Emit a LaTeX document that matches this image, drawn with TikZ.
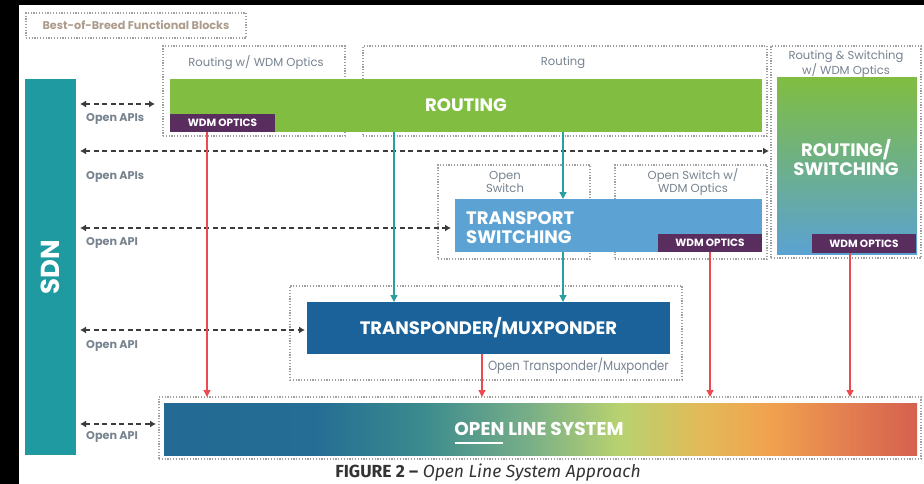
\documentclass[tikz,border=0pt]{standalone}
\usepackage{fontspec}
\setmainfont{Poppins}
\newfontfamily\capfont{Fira Sans}
\usetikzlibrary{arrows.meta}
\definecolor{sdnteal}{HTML}{1F9AA0}
\definecolor{rgreen}{HTML}{80BD41}
\definecolor{wdmpurple}{HTML}{5A2D5F}
\definecolor{tblue}{HTML}{5CA3D3}
\definecolor{tpblue}{HTML}{1A6299}
\definecolor{rsblue}{HTML}{5AA2D2}
\definecolor{lblgray}{HTML}{77838F}
\definecolor{tantext}{HTML}{AD9C8C}
\definecolor{dotgray}{HTML}{A0A0A0}
\definecolor{arrgray}{HTML}{3C3C3C}
\definecolor{redarr}{HTML}{EA4A50}
\definecolor{tealarr}{HTML}{2A9EA0}
\definecolor{capgray}{HTML}{333333}
\definecolor{o1}{HTML}{236A94}
\definecolor{o2}{HTML}{256D94}
\definecolor{o3}{HTML}{3A8A8E}
\definecolor{o4}{HTML}{76AD88}
\definecolor{o5}{HTML}{B8D270}
\definecolor{o6}{HTML}{E2BA58}
\definecolor{o7}{HTML}{F1A24E}
\definecolor{o8}{HTML}{E27D50}
\definecolor{o9}{HTML}{D5604E}
\pgfdeclarehorizontalshading{olsshade}{100bp}{color(0bp)=(o1); color(25bp)=(o1); color(35bp)=(o2); color(42bp)=(o3); color(49bp)=(o4); color(55.3bp)=(o5); color(60.6bp)=(o6); color(65.2bp)=(o7); color(70.5bp)=(o8); color(75bp)=(o9); color(100bp)=(o9)}
\tikzset{
  blk/.style={rectangle, inner sep=0pt, outer sep=0pt, anchor=north west},
  dotbox/.style={blk, draw=dotgray, line width=1.2pt, dash pattern=on 1.2pt off 1.6pt},
  wdm/.style={blk, fill=wdmpurple, text=white, font=\bfseries\fontsize{10.5}{11}\selectfont},
  bigtxt/.style={text=white, font=\bfseries\fontsize{18}{19}\selectfont},
  lbl/.style={text=lblgray, font=\fontsize{11.6}{13.5}\selectfont, align=center, inner sep=0pt},
  apilbl/.style={text=lblgray, font=\bfseries\fontsize{11.2}{12}\selectfont, anchor=west, inner sep=0pt},
  api/.style={draw=arrgray, line width=1.6pt, dash pattern=on 5pt off 3.5pt, {Latex[length=6pt,width=7pt]}-{Latex[length=6pt,width=7pt]}},
  redline/.style={draw=redarr, line width=1.3pt, -{Triangle[length=7pt,width=7pt]}},
  tealline/.style={draw=tealarr, line width=1.3pt, -{Triangle[length=7pt,width=7pt]}}
}
\begin{document}
\begin{tikzpicture}[x=1pt,y=-1pt]
\useasboundingbox (0,0) rectangle (924,484);
\fill[white] (0,0) rectangle (924,484);
\fill[black] (0,0) rectangle (924,5);
\fill[black] (0,0) rectangle (19,484);

% dotted group boxes
\node[dotbox, minimum width=220pt, minimum height=25pt, text=tantext, font=\bfseries\fontsize{11.2}{12}\selectfont] (bob) at (26,13) {Best-of-Breed Functional Blocks};
\node[dotbox, minimum width=182pt, minimum height=90pt] (rwdmbox) at (163,46) {};
\node[dotbox, minimum width=404pt, minimum height=90pt] (routbox) at (363,46) {};
\node[dotbox, minimum width=150pt, minimum height=212pt] (rsbox) at (771,46) {};
\node[dotbox, minimum width=152pt, minimum height=94pt] (osbox) at (438,165) {};
\node[dotbox, minimum width=152pt, minimum height=94pt] (oswbox) at (615,165) {};
\node[dotbox, minimum width=392pt, minimum height=94pt] (tpbox) at (290,286) {};
\node[dotbox, minimum width=762pt, minimum height=62pt] (olsbox) at (159,397) {};

% group labels
\node[lbl] (l1) at (256,63) {Routing w/ WDM Optics};
\node[lbl] (l2) at (563,63) {Routing};
\node[lbl] (l3) at (846,64) {Routing \& Switching\\w/ WDM Optics};
\node[lbl] (l4) at (505,182) {Open\\Switch};
\node[lbl] (l5) at (693,182) {Open Switch w/\\WDM Optics};
\node[lbl, anchor=east, xscale=0.88, font=\fontsize{13.3}{14}\selectfont] (l6) at (669,366) {Open Transponder/Muxponder};

% SDN
\node[blk, fill=sdnteal, minimum width=51pt, minimum height=376pt] (sdn) at (25,79) {};
\node[rotate=90, text=white, font=\bfseries\fontsize{26}{26}\selectfont] (sdntext) at (sdn.center) {SDN};

% functional blocks
\node[blk, fill=rgreen, minimum width=592pt, minimum height=53pt, bigtxt] (routing) at (170,79) {ROUTING};
\node[wdm, minimum width=105pt, minimum height=18pt] (wdm1) at (170,114) {WDM OPTICS};

\node[blk, top color=rgreen, bottom color=rsblue, minimum width=140pt, minimum height=176pt] (rs) at (777,78) {};
\node[bigtxt, align=center] (rstext) at (846,158) {ROUTING/\\SWITCHING};
\node[wdm, minimum width=104pt, minimum height=19pt] (wdm3) at (812,234) {WDM OPTICS};

\node[blk, fill=tblue, minimum width=307pt, minimum height=53pt] (transport) at (455,199) {};
\node[bigtxt, align=left, anchor=west, inner sep=0pt] (ttext) at (466,228) {TRANSPORT\\SWITCHING};
\node[wdm, minimum width=104pt, minimum height=18pt] (wdm2) at (658,234) {WDM OPTICS};

\node[blk, fill=tpblue, minimum width=363pt, minimum height=52pt, bigtxt] (transponder) at (307,302) {TRANSPONDER/MUXPONDER};

\node[blk, shading=olsshade, minimum width=753pt, minimum height=52pt] (ols) at (164,403) {};
\node[bigtxt, font=\bfseries\fontsize{18.5}{19}\selectfont] (olstext) at (539,429) {OPEN LINE SYSTEM};
\fill[white] (455,441.5) rectangle (503,444);

% API arrows
\coordinate (a1) at (80,104);
\coordinate (a2) at (80,151);
\coordinate (a3) at (80,228);
\coordinate (a4) at (80,330);
\coordinate (a5) at (80,424);
\draw[api] (a1) -- ([xshift=-8pt]a1 -| rwdmbox.west);
\draw[api] (a2) -- ([xshift=-2pt]a2 -| rsbox.west);
\draw[api] (a3) -- ([xshift=-4pt]a3 -| transport.west);
\draw[api] (a4) -- ([xshift=-2pt]a4 -| transponder.west);
\draw[api] (a5) -- ([xshift=-3pt]a5 -| olsbox.west);
\node[apilbl] (t1) at (86,119) {Open APIs};
\node[apilbl] (t2) at (86,177) {Open APIs};
\node[apilbl] (t3) at (86,243) {Open API};
\node[apilbl] (t4) at (86,346) {Open API};
\node[apilbl] (t5) at (86,437) {Open API};

% teal arrows
\draw[tealline] ([xshift=224pt]routing.south west) -- ([xshift=224pt]routing.south west |- transponder.north);
\draw[tealline] ([xshift=393pt]routing.south west) -- ([xshift=393pt]routing.south west |- transport.north);
\draw[tealline] ([xshift=393pt]routing.south west |- transport.south) -- ([xshift=393pt]routing.south west |- transponder.north);

% red arrows
\draw[redline] ([xshift=37pt]wdm1.south west) -- ([xshift=37pt]wdm1.south west |- olsbox.north);
\draw[redline] ([xshift=175pt]transponder.south west) -- ([xshift=175pt]transponder.south west |- olsbox.north);
\draw[redline] (wdm2.south) -- (wdm2.south |- olsbox.north);
\draw[redline] ([xshift=38pt]wdm3.south west) -- ([xshift=38pt]wdm3.south west |- olsbox.north);

% caption
\node[text=capgray, font=\capfont\fontsize{17.5}{18}\selectfont, inner sep=0pt] (cap) at (488,473) {\textbf{FIGURE 2 –} \textit{Open Line System Approach}};
\end{tikzpicture}
\end{document}
